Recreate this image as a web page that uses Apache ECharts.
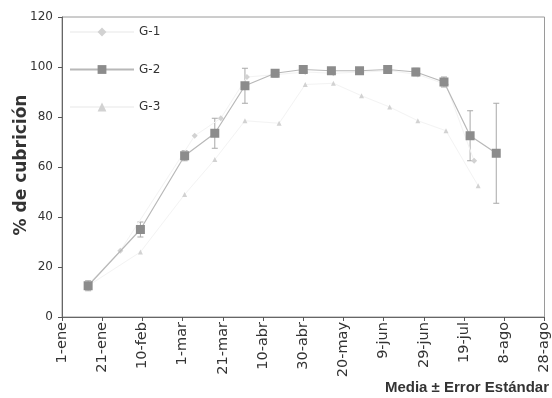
<!DOCTYPE html>
<html>
<head>
<meta charset="utf-8">
<script src="https://cdn.jsdelivr.net/npm/echarts@6/dist/echarts.min.js"></script>
<style>
  html, body { margin: 0; padding: 0; background: #fff; }
  #chart { width: 552px; height: 398px; }
</style>
</head>
<body>
<div id="chart"></div>
<script>
// Day of year (counted from 1 January) and tick labels every 20 days
const tickLabels = ['1-ene', '21-ene', '10-feb', '1-mar', '21-mar', '10-abr', '30-abr',
                    '20-may', '9-jun', '29-jun', '19-jul', '8-ago', '28-ago'];

// G-1: day of year and mean coverage (%)
const g1Days = [13, 29, 66, 79, 92, 107, 121, 135, 149, 163, 177, 191, 205];
const g1Vals = [13, 26.5, 72.5, 79.5, 96, 97, 98, 97.5, 98, 98.5, 97, 93, 62.5];

// G-2: day of year, mean coverage (%) and standard error
const g2Days = [13, 39, 61, 76, 91, 106, 120, 134, 148, 162, 176, 190, 203, 216];
const g2Vals = [12.5, 35, 64.5, 73.5, 92.5, 97.5, 99, 98.5, 98.5, 99, 98, 94, 72.5, 65.5];
const g2Err  = [2, 3, 2, 6, 7, 1.5, 1, 1, 1, 1, 1.5, 2, 10, 20];

// G-3: day of year and mean coverage (%)
const g3Days = [13, 39, 61, 76, 91, 108, 121, 135, 149, 163, 177, 191, 207];
const g3Vals = [12.5, 26, 49, 63, 78.5, 77.5, 93, 93.5, 88.5, 84, 78.5, 74.5, 52.5];

const pairs = (xs, ys) => xs.map((x, i) => [x, ys[i]]);
const errData = g2Days.map((d, i) => [d, g2Vals[i] - g2Err[i], g2Vals[i] + g2Err[i]]);

const chart = echarts.init(document.getElementById('chart'), null, { renderer: 'canvas' });

chart.setOption({
  animation: false,
  backgroundColor: '#ffffff',
  grid: {
    left: 62, right: 6, top: 17, bottom: 81,
    show: true, borderColor: '#9a9a9a', borderWidth: 1, backgroundColor: 'transparent'
  },
  legend: {
    orient: 'vertical',
    left: 64, top: 21,
    itemWidth: 64, itemHeight: 11, itemGap: 25.5,
    data: ['G-1', 'G-2', 'G-3'],
    textStyle: { fontFamily: 'DejaVu Sans', fontSize: 12, color: '#333' }
  },
  xAxis: {
    type: 'value', min: 0, max: 240, interval: 20,
    splitLine: { show: false },
    axisLine: { lineStyle: { color: '#666' } },
    axisTick: { length: 4, lineStyle: { color: '#555' } },
    axisLabel: {
      rotate: 90, margin: 5, color: '#333',
      fontFamily: 'DejaVu Sans', fontSize: 14.5,
      formatter: v => tickLabels[Math.round(v / 20)] || ''
    }
  },
  yAxis: {
    type: 'value', min: 0, max: 120, interval: 20,
    splitLine: { show: false },
    axisLine: { show: true, lineStyle: { color: '#666' } },
    axisTick: { show: true, length: 4, lineStyle: { color: '#555' } },
    axisLabel: { margin: 9, color: '#333', fontFamily: 'DejaVu Sans', fontSize: 12 }
  },
  series: [
    {
      name: 'G-2 error',
      type: 'custom',
      data: errData,
      z: 1,
      silent: true,
      renderItem: (params, api) => {
        const top = api.coord([api.value(0), api.value(2)]);
        const bot = api.coord([api.value(0), api.value(1)]);
        const cap = 3;
        const style = { stroke: '#a8a8a8', lineWidth: 1 };
        return {
          type: 'group',
          children: [
            { type: 'line', shape: { x1: top[0], y1: top[1], x2: bot[0], y2: bot[1] }, style },
            { type: 'line', shape: { x1: top[0] - cap, y1: top[1], x2: top[0] + cap, y2: top[1] }, style },
            { type: 'line', shape: { x1: bot[0] - cap, y1: bot[1], x2: bot[0] + cap, y2: bot[1] }, style }
          ]
        };
      }
    },
    {
      name: 'G-1',
      type: 'line',
      data: pairs(g1Days, g1Vals),
      symbol: 'diamond', symbolSize: 6,
      itemStyle: { color: '#d2d2d2' },
      lineStyle: { color: '#f3f3f3', width: 1 },
      z: 2
    },
    {
      name: 'G-3',
      type: 'line',
      data: pairs(g3Days, g3Vals),
      symbol: 'triangle', symbolSize: 5,
      itemStyle: { color: '#d2d2d2' },
      lineStyle: { color: '#f3f3f3', width: 1 },
      z: 2
    },
    {
      name: 'G-2',
      type: 'line',
      data: pairs(g2Days, g2Vals),
      symbol: 'rect', symbolSize: 9,
      itemStyle: { color: '#8c8c8c' },
      lineStyle: { color: '#b8b8b8', width: 1.2 },
      z: 3
    }
  ],
  graphic: [
    {
      type: 'text', x: 22, y: 165, rotation: Math.PI / 2,
      style: {
        text: '% de cubrición', font: 'bold 17px "DejaVu Sans"',
        fill: '#333', align: 'center', verticalAlign: 'middle'
      }
    },
    {
      type: 'text', x: 549, y: 388,
      style: {
        text: 'Media ± Error Estándar', font: 'bold 15px "Liberation Sans"',
        fill: '#333', align: 'right', verticalAlign: 'middle'
      }
    }
  ]
});
</script>
</body>
</html>
